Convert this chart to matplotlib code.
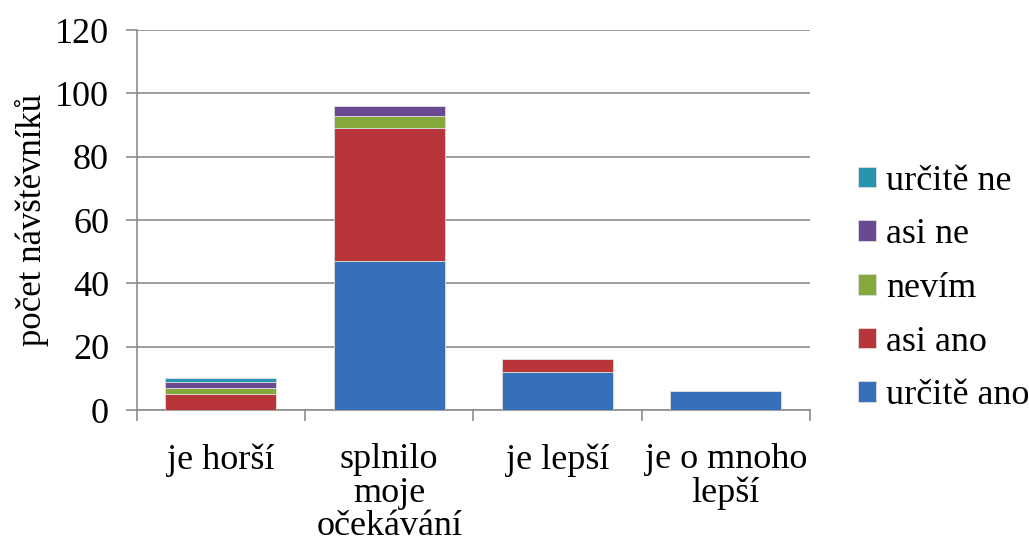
import matplotlib.pyplot as plt
import numpy as np

categories = ['je horší', 'splnilo\nmoje\nočekávání', 'je lepší', 'je o mnoho\nlepší']
series_names = ['určitě ano', 'asi ano', 'nevím', 'asi ne', 'určitě ne']
urcite_ano = [0, 47, 12, 6]
asi_ano = [5, 42, 4, 0]
nevim = [2, 4, 0, 0]
asi_ne = [2, 3, 0, 0]
urcite_ne = [1, 0, 0, 0]
colors = ['#3670b8', '#b8363a', '#84a83c', '#694a92', '#2a93b0']

plt.rcParams['font.family'] = ['Liberation Serif', 'DejaVu Serif']

fig = plt.figure(figsize=(10.29, 5.46), dpi=100)
ax = fig.add_axes([0.133, 0.249, 0.654, 0.696])

x = np.arange(len(categories))
bottom = np.zeros(len(categories))
handles = []
for name, vals, col in zip(series_names, [urcite_ano, asi_ano, nevim, asi_ne, urcite_ne], colors):
    b = ax.bar(x, vals, width=0.66, bottom=bottom, color=col, label=name,
               edgecolor='#dddddd', linewidth=0.6, zorder=3)
    handles.append(b)
    bottom += np.array(vals)

ax.set_xlim(-0.5, len(categories) - 0.5)
ax.set_ylim(0, 120)
ax.set_yticks(range(0, 121, 20))
ax.yaxis.grid(True, color='#8c8c8c', linewidth=1.2, zorder=0)
ax.tick_params(axis='y', labelsize=26, length=8, color='#8c8c8c', width=1.2, pad=12)

# category boundaries as tick marks, labels at centres
ax.set_xticks(np.arange(-0.5, len(categories), 1.0))
ax.set_xticklabels([])
ax.set_xticks(x, minor=True)
ax.set_xticklabels(categories, minor=True, fontsize=26, linespacing=1.02)
ax.tick_params(axis='x', which='major', length=8, color='#8c8c8c', width=1.2)
ax.tick_params(axis='x', which='minor', length=0, pad=24)

for side in ['top', 'right']:
    ax.spines[side].set_visible(False)
for side in ['left', 'bottom']:
    ax.spines[side].set_color('#8c8c8c')
    ax.spines[side].set_linewidth(1.2)

ax.set_ylabel('počet návštěvníků', fontsize=25, labelpad=4)

leg = fig.legend(handles[::-1], series_names[::-1], loc='center left',
                 bbox_to_anchor=(0.834, 0.4715), frameon=False, fontsize=26,
                 handlelength=0.5, handleheight=0.5, handletextpad=0.28,
                 labelspacing=0.57, borderpad=0, borderaxespad=0)

fig.savefig('out.png', dpi=100)
